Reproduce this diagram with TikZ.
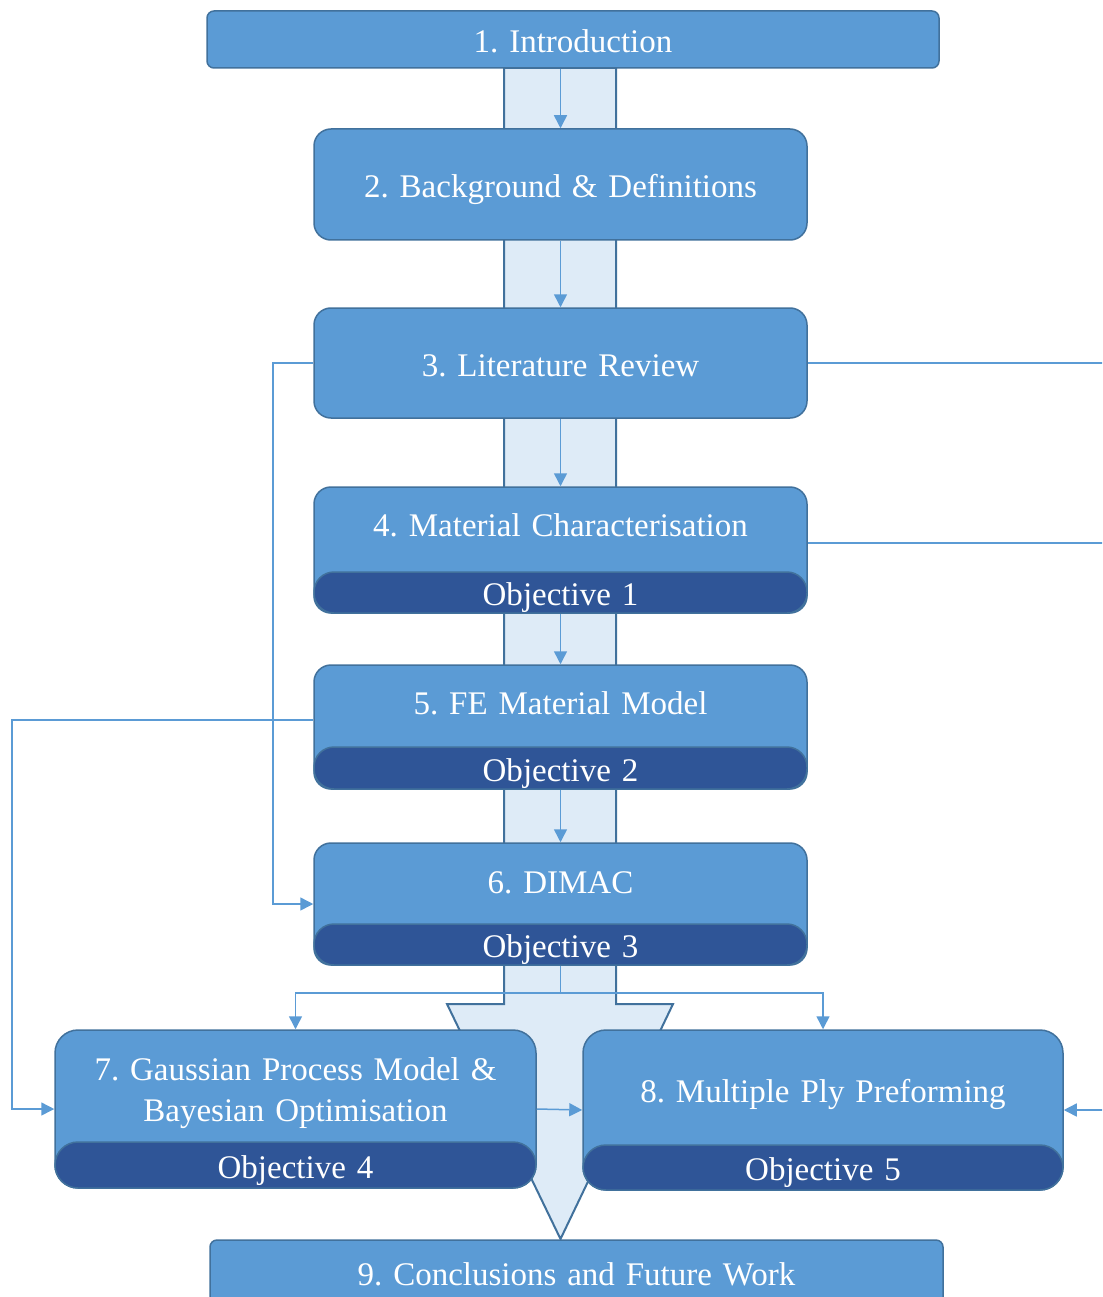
\documentclass[tikz,border=0pt]{standalone}
\usepackage{fontspec}
\setmainfont{Liberation Serif}
\usetikzlibrary{arrows.meta}
\definecolor{boxblue}{HTML}{5B9BD5}
\definecolor{boxedge}{HTML}{41719C}
\definecolor{objblue}{HTML}{2F5597}
\definecolor{bandblue}{HTML}{DEEBF7}
\newcommand{\chapfont}{\fontsize{33}{41}\selectfont\frenchspacing\spaceskip=0.33em\relax}
\tikzset{
  box/.style={draw=boxedge, line width=1.5pt, fill=boxblue, rounded corners=17pt,
    inner sep=0pt, text=white, font=\chapfont, text height=31pt, text depth=5pt},
  bar/.style={box, fill=objblue, rounded corners=20pt},
  title/.style={inner sep=0pt, text=white, font=\chapfont, text height=31pt, text depth=5pt},
  band/.style={draw=boxedge, line width=2pt, fill=bandblue, line join=miter},
  line/.style={draw=boxblue, line width=1.5pt},
  link/.style={line, -{Triangle[length=13pt,width=13pt]}}
}

\begin{document}
\begin{tikzpicture}[x=1pt,y=-1pt]
\useasboundingbox (0,0) rectangle (1102,1297);
\fill[white] (0,0) rectangle (1102,1297);
\clip (0,0) rectangle (1102,1297);

% big block arrow behind the chapters
\draw[band] (504,68) -- (504,1004) -- (447,1004) -- (560.5,1239)
  -- (673,1004) -- (616,1004) -- (616,68) -- cycle;

% chapters
\node[box, rounded corners=7pt, minimum width=732pt, minimum height=57pt] (intro) at (573,39.5) {1. Introduction};
\node[box, minimum width=493pt, minimum height=111pt] (backg) at (560.5,184.5) {2. Background \& Definitions};
\node[box, minimum width=493pt, minimum height=110pt] (litrev) at (560.5,363) {3. Literature Review};
\node[box, minimum width=493pt, minimum height=126pt] (matchar) at (560.5,550) {};
\node[box, minimum width=493pt, minimum height=124pt] (femod) at (560.5,727) {};
\node[box, minimum width=493pt, minimum height=122pt] (dimac) at (560.5,904) {};
\node[box, rounded corners=23pt, minimum width=481pt, minimum height=158pt] (gauss) at (295.5,1109) {};
\node[box, rounded corners=23pt, minimum width=480pt, minimum height=160pt] (multi) at (823,1110) {};
\node[box, rounded corners=7pt, minimum width=733pt, minimum height=64pt] (concl) at (576.5,1272) {9. Conclusions and Future Work};

% objective bars
\node[bar, minimum width=493pt, minimum height=41pt, anchor=south] (obj1) at (matchar.south) {Objective 1};
\node[bar, minimum width=493pt, minimum height=42pt, anchor=south] (obj2) at (femod.south) {Objective 2};
\node[bar, minimum width=493pt, minimum height=41pt, anchor=south] (obj3) at (dimac.south) {Objective 3};
\node[bar, rounded corners=23pt, minimum width=481pt, minimum height=46pt, anchor=south] (obj4) at (gauss.south) {Objective 4};
\node[bar, rounded corners=23pt, minimum width=480pt, minimum height=45pt, anchor=south] (obj5) at (multi.south) {Objective 5};

\node[title] (t4) at (560.5,523) {4. Material Characterisation};
\node[title] (t5) at (560.5,701) {5. FE Material Model};
\node[title] (t6) at (560.5,880) {6. DIMAC};
\node[title, align=center] (t7) at (295.5,1108.5) {7. Gaussian Process Model \&\\Bayesian Optimisation};
\node[title] (t8) at (823,1089) {8. Multiple Ply Preforming};

% connectors
\foreach \a/\b in {intro/backg, backg/litrev, litrev/matchar, matchar/femod, femod/dimac}
  \draw[link] (\b.north |- \a.south) -- (\b.north);

\coordinate (fork) at (560.5,993);
\coordinate (lbus) at (273,0);
\coordinate (lfar) at (12,0);
\coordinate (rbus) at (1120,0);

\draw[line] (dimac.south) -- (fork);
\draw[link] (fork) -| (gauss.north);
\draw[link] (fork) -| (multi.north);

\draw[link] (litrev.west) -| (lbus |- dimac.west) -- (dimac.west);
\draw[link] ([yshift=7pt]femod.west) -| (lfar |- gauss.west) -- (gauss.west);
\draw[line] (litrev.east) -| (rbus |- multi.east);
\draw[line] ([yshift=7pt]matchar.east) -- ([yshift=7pt]matchar.east -| rbus);
\draw[link] (rbus |- multi.east) -- (multi.east);
\draw[link] (gauss.east) -- (multi.west);
\end{tikzpicture}
\end{document}
